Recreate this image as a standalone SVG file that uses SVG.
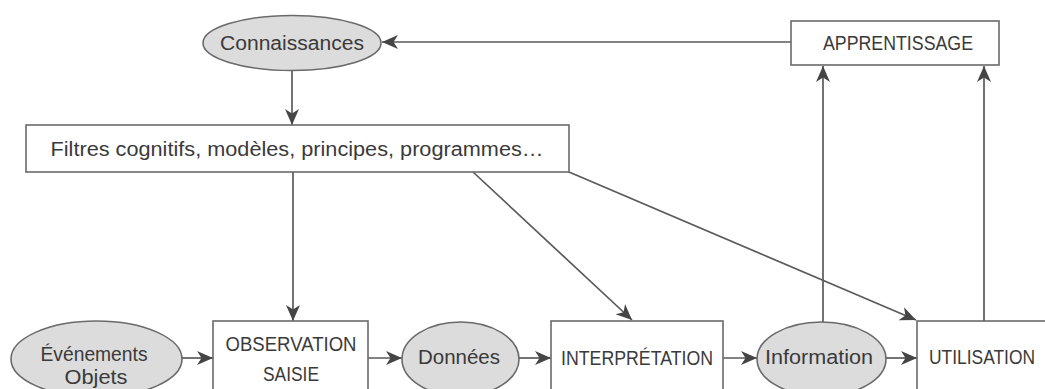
<svg xmlns="http://www.w3.org/2000/svg" width="1045" height="389" viewBox="0 0 1045 389">
<style>
.box{fill:#fff;stroke:#6a6a6a;stroke-width:1.6}
.ell{fill:#dcdcdc;stroke:#6a6a6a;stroke-width:1.6}
.t{font-family:"Liberation Sans",Arial,sans-serif;font-size:20px;fill:#3a3a3a;text-anchor:middle}
.c{stroke:#5a5a5a;stroke-width:1.7;fill:none;marker-end:url(#ah)}
</style>
<defs>
<marker id="ah" markerUnits="userSpaceOnUse" markerWidth="18" markerHeight="15" refX="16" refY="7" orient="auto">
<path d="M0,0 L16,7 L0,14 L4.5,7 Z" fill="#454545"/>
</marker>
</defs>
<rect width="1045" height="389" fill="#fff"/>
<g id="connectors">
<line class="c" x1="791" y1="42" x2="382" y2="42"/>
<line class="c" x1="292" y1="71" x2="292" y2="125"/>
<line class="c" x1="293" y1="172" x2="293" y2="321"/>
<line class="c" x1="473" y1="172" x2="632" y2="320"/>
<line class="c" x1="569" y1="172" x2="916" y2="320"/>
<line class="c" x1="182" y1="358" x2="213" y2="358"/>
<line class="c" x1="368" y1="358" x2="402" y2="358"/>
<line class="c" x1="519" y1="358" x2="551" y2="358"/>
<line class="c" x1="723" y1="358" x2="757" y2="358"/>
<line class="c" x1="886" y1="358" x2="917" y2="358"/>
<line class="c" x1="823" y1="322" x2="823" y2="66"/>
<line class="c" x1="984" y1="321" x2="984" y2="66"/>
</g>
<g id="connaissances">
<ellipse class="ell" cx="292" cy="43" rx="89" ry="27.5"/>
<text class="t" x="292" y="50" textLength="144" lengthAdjust="spacingAndGlyphs">Connaissances</text>
</g>
<g id="apprentissage">
<rect class="box" x="791" y="21" width="208" height="44"/>
<text class="t" x="898" y="50" textLength="150" lengthAdjust="spacingAndGlyphs">APPRENTISSAGE</text>
</g>
<g id="filtres">
<rect class="box" x="26" y="125" width="543" height="47"/>
<text class="t" x="297" y="156" textLength="493" lengthAdjust="spacingAndGlyphs">Filtres cognitifs, modèles, principes, programmes…</text>
</g>
<g id="evenements">
<ellipse class="ell" cx="96.5" cy="359" rx="85.5" ry="38"/>
<text class="t" x="94" y="361" textLength="107" lengthAdjust="spacingAndGlyphs">Événements</text>
<text class="t" x="96" y="384" textLength="63" lengthAdjust="spacingAndGlyphs">Objets</text>
</g>
<g id="observation">
<rect class="box" x="213" y="321" width="155" height="80"/>
<text class="t" x="291" y="351" textLength="131" lengthAdjust="spacingAndGlyphs">OBSERVATION</text>
<text class="t" x="291" y="381" textLength="56" lengthAdjust="spacingAndGlyphs">SAISIE</text>
</g>
<g id="donnees">
<ellipse class="ell" cx="460.5" cy="359" rx="58.5" ry="37"/>
<text class="t" x="459" y="364" textLength="82" lengthAdjust="spacingAndGlyphs">Données</text>
</g>
<g id="interpretation">
<rect class="box" x="551" y="321" width="172" height="80"/>
<text class="t" x="637" y="365" textLength="152" lengthAdjust="spacingAndGlyphs">INTERPRÉTATION</text>
</g>
<g id="information">
<ellipse class="ell" cx="821.5" cy="359" rx="64.5" ry="37"/>
<text class="t" x="819" y="364" textLength="108" lengthAdjust="spacingAndGlyphs">Information</text>
</g>
<g id="utilisation">
<rect class="box" x="917" y="321" width="140" height="80"/>
<text class="t" x="982" y="364" textLength="106" lengthAdjust="spacingAndGlyphs">UTILISATION</text>
</g>
</svg>
